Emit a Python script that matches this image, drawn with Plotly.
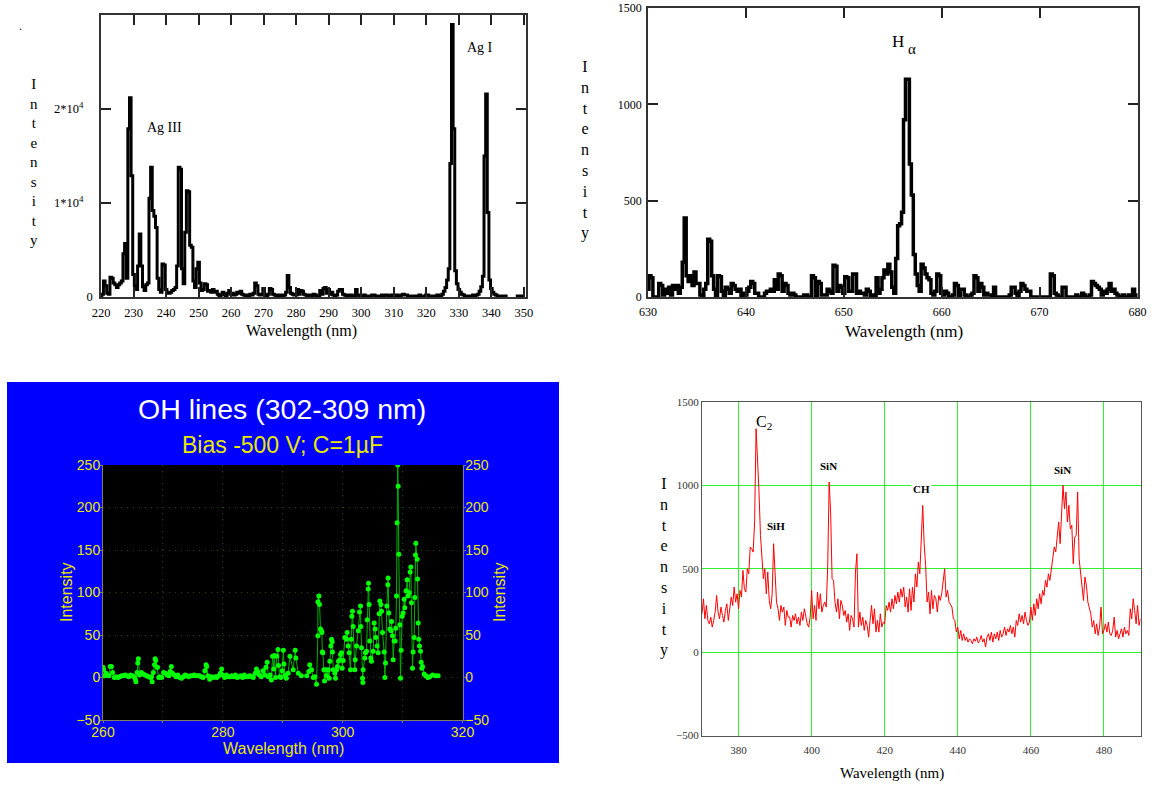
import plotly.graph_objects as go

W = 1152
H = 786

# Ag spectrum
ag_x = [
    220.0, 220.5, 221.0, 221.5, 222.0, 222.5, 223.0, 223.5, 224.0, 224.5,
    225.0, 225.5, 226.0, 226.5, 227.0, 227.5, 228.0, 228.5, 229.0, 229.5,
    230.0, 230.5, 231.0, 231.5, 232.0, 232.5, 233.0, 233.5, 234.0, 234.5,
    235.0, 235.5, 236.0, 236.5, 237.0, 237.5, 238.0, 238.5, 239.0, 239.5,
    240.0, 240.5, 241.0, 241.5, 242.0, 242.5, 243.0, 243.5, 244.0, 244.5,
    245.0, 245.5, 246.0, 246.5, 247.0, 247.5, 248.0, 248.5, 249.0, 249.5,
    250.0, 250.5, 251.0, 251.5, 252.0, 252.5, 253.0, 253.5, 254.0, 254.5,
    255.0, 255.5, 256.0, 256.5, 257.0, 257.5, 258.0, 258.5, 259.0, 259.5,
    260.0, 260.5, 261.0, 261.5, 262.0, 262.5, 263.0, 263.5, 264.0, 264.5,
    265.0, 265.5, 266.0, 266.5, 267.0, 267.5, 268.0, 268.5, 269.0, 269.5,
    270.0, 270.5, 271.0, 271.5, 272.0, 272.5, 273.0, 273.5, 274.0, 274.5,
    275.0, 275.5, 276.0, 276.5, 277.0, 277.5, 278.0, 278.5, 279.0, 279.5,
    280.0, 280.5, 281.0, 281.5, 282.0, 282.5, 283.0, 283.5, 284.0, 284.5,
    285.0, 285.5, 286.0, 286.5, 287.0, 287.5, 288.0, 288.5, 289.0, 289.5,
    290.0, 290.5, 291.0, 291.5, 292.0, 292.5, 293.0, 293.5, 294.0, 294.5,
    295.0, 295.5, 296.0, 296.5, 297.0, 297.5, 298.0, 298.5, 299.0, 299.5,
    300.0, 300.5, 301.0, 301.5, 302.0, 302.5, 303.0, 303.5, 304.0, 304.5,
    305.0, 305.5, 306.0, 306.5, 307.0, 307.5, 308.0, 308.5, 309.0, 309.5,
    310.0, 310.5, 311.0, 311.5, 312.0, 312.5, 313.0, 313.5, 314.0, 314.5,
    315.0, 315.5, 316.0, 316.5, 317.0, 317.5, 318.0, 318.5, 319.0, 319.5,
    320.0, 320.5, 321.0, 321.5, 322.0, 322.5, 323.0, 323.5, 324.0, 324.5,
    325.0, 325.5, 326.0, 326.5, 327.0, 327.5, 328.0, 328.5, 329.0, 329.5,
    330.0, 330.5, 331.0, 331.5, 332.0, 332.5, 333.0, 333.5, 334.0, 334.5,
    335.0, 335.5, 336.0, 336.5, 337.0, 337.5, 338.0, 338.5, 339.0, 339.5,
    340.0, 340.5, 341.0, 341.5, 342.0, 342.5, 343.0, 343.5, 344.0, 344.5,
    345.0, 345.5, 346.0, 346.5, 347.0, 347.5, 348.0, 348.5, 349.0, 349.5,
    350.0,
]
ag_y = [
    100, 300, 1700, 1200, 400, 300, 2100, 2000, 1500, 1300,
    1000, 1300, 1500, 1700, 4600, 5700, 2000, 17900, 21200, 12900,
    2400, 1200, 800, 3300, 6700, 3300, 1100, 700, 1300, 1500,
    10500, 13800, 9200, 8600, 7400, 2000, 800, 500, 3500, 3400,
    800, 500, 400, 500, 700, 800, 1000, 3300, 13800, 13600,
    3000, 1400, 6900, 11300, 11200, 5500, 5300, 1700, 1000, 3000,
    3700, 1500, 700, 800, 1400, 1300, 600, 700, 500, 800,
    500, 600, 300, 100, 200, 500, 300, 100, 400, 700,
    300, 400, 200, 300, 500, 400, 600, 300, 200, 100,
    200, 100, 300, 200, 400, 1500, 1200, 300, 200, 300,
    900, 200, 100, 300, 900, 800, 300, 200, 100, 200,
    100, 200, 100, 200, 500, 2300, 1000, 400, 300, 200,
    200, 800, 300, 700, 600, 300, 200, 100, 200, 200,
    100, 300, 200, 100, 100, 700, 300, 900, 1000, 400,
    800, 300, 500, 200, 100, 200, 600, 800, 800, 300,
    200, 100, 200, 100, 200, 100, 100, 800, 200, 100,
    100, 100, 200, 100, 100, 100, 100, 200, 200, 100,
    100, 100, 100, 200, 100, 200, 200, 100, 100, 200,
    100, 100, 200, 100, 100, 200, 300, 200, 200, 100,
    100, 100, 100, 100, 100, 100, 200, 100, 100, 100,
    200, 200, 100, 100, 100, 100, 100, 200, 100, 100,
    300, 600, 1000, 1800, 3000, 14200, 29000, 17900, 2800, 1400,
    800, 500, 300, 200, 100, 100, 100, 100, 100, 200,
    100, 200, 300, 600, 1100, 2200, 15000, 21600, 9000, 1800,
    900, 500, 300, 200, 100, 100, 100, 100, 100, 100,
    100, None, None, None, None, 100, 100, 100, 100, 100,
    100,
]

# H alpha region
ha_x = [
    630.0, 630.2, 630.4, 630.6, 630.8, 631.0, 631.2, 631.4, 631.6, 631.8,
    632.0, 632.2, 632.4, 632.6, 632.8, 633.0, 633.2, 633.4, 633.6, 633.8,
    634.0, 634.2, 634.4, 634.6, 634.8, 635.0, 635.2, 635.4, 635.6, 635.8,
    636.0, 636.2, 636.4, 636.6, 636.8, 637.0, 637.2, 637.4, 637.6, 637.8,
    638.0, 638.2, 638.4, 638.6, 638.8, 639.0, 639.2, 639.4, 639.6, 639.8,
    640.0, 640.2, 640.4, 640.6, 640.8, 641.0, 641.2, 641.4, 641.6, 641.8,
    642.0, 642.2, 642.4, 642.6, 642.8, 643.0, 643.2, 643.4, 643.6, 643.8,
    644.0, 644.2, 644.4, 644.6, 644.8, 645.0, 645.2, 645.4, 645.6, 645.8,
    646.0, 646.2, 646.4, 646.6, 646.8, 647.0, 647.2, 647.4, 647.6, 647.8,
    648.0, 648.2, 648.4, 648.6, 648.8, 649.0, 649.2, 649.4, 649.6, 649.8,
    650.0, 650.2, 650.4, 650.6, 650.8, 651.0, 651.2, 651.4, 651.6, 651.8,
    652.0, 652.2, 652.4, 652.6, 652.8, 653.0, 653.2, 653.4, 653.6, 653.8,
    654.0, 654.2, 654.4, 654.6, 654.8, 655.0, 655.2, 655.4, 655.6, 655.8,
    656.0, 656.2, 656.4, 656.6, 656.8, 657.0, 657.2, 657.4, 657.6, 657.8,
    658.0, 658.2, 658.4, 658.6, 658.8, 659.0, 659.2, 659.4, 659.6, 659.8,
    660.0, 660.2, 660.4, 660.6, 660.8, 661.0, 661.2, 661.4, 661.6, 661.8,
    662.0, 662.2, 662.4, 662.6, 662.8, 663.0, 663.2, 663.4, 663.6, 663.8,
    664.0, 664.2, 664.4, 664.6, 664.8, 665.0, 665.2, 665.4, 665.6, 665.8,
    666.0, 666.2, 666.4, 666.6, 666.8, 667.0, 667.2, 667.4, 667.6, 667.8,
    668.0, 668.2, 668.4, 668.6, 668.8, 669.0, 669.2, 669.4, 669.6, 669.8,
    670.0, 670.2, 670.4, 670.6, 670.8, 671.0, 671.2, 671.4, 671.6, 671.8,
    672.0, 672.2, 672.4, 672.6, 672.8, 673.0, 673.2, 673.4, 673.6, 673.8,
    674.0, 674.2, 674.4, 674.6, 674.8, 675.0, 675.2, 675.4, 675.6, 675.8,
    676.0, 676.2, 676.4, 676.6, 676.8, 677.0, 677.2, 677.4, 677.6, 677.8,
    678.0, 678.2, 678.4, 678.6, 678.8, 679.0, 679.2, 679.4, 679.6, 679.8,
    680.0,
]
ha_y = [
    40, 110, 100, 0, 0, 0, 70, 60, 10, 40,
    20, 50, 10, 60, 40, 60, 20, 50, 180, 410,
    110, 80, 110, 60, 130, 70, 70, 10, 0, 40,
    70, 300, 290, 110, 40, 0, 110, 105, 30, 0,
    50, 40, 20, 70, 60, 40, 30, 40, 0, 20,
    10, 30, 50, 80, 70, 20, 20, 0, 0, 0,
    20, 30, 30, 40, 30, 90, 40, 120, 110, 30,
    70, 60, 20, 10, 20, 10, 0, 0, 0, 0,
    10, 10, 0, 0, 110, 100, 0, 80, 70, 10,
    10, 10, 40, 30, 20, 165, 160, 30, 60, 50,
    20, 105, 100, 30, 30, 120, 120, 20, 30, 20,
    20, 10, 40, 30, 0, 10, 0, 100, 20, 40,
    100, 140, 120, 170, 130, 50, 20, 200, 370, 380,
    440, 920, 1130, 1130, 690, 530, 220, 120, 60, 30,
    170, 150, 120, 100, 90, 20, 10, 30, 120, 110,
    20, 10, 30, 20, 0, 0, 10, 70, 60, 0,
    40, 40, 10, 0, 0, 10, 20, 110, 100, 30,
    70, 50, 10, 20, 10, 10, 0, 50, 0, 0,
    0, 0, 0, 0, 0, 10, 50, 50, 20, 0,
    30, 70, 60, 40, 30, 30, 0, 0, 0, 0,
    0, 0, 0, 0, 0, 0, 120, 110, 20, 10,
    0, 0, 50, 50, 0, 0, 0, 0, 0, 10,
    0, 0, 20, 10, 0, 0, 10, 80, 70, 60,
    50, 40, 10, 30, 20, 40, 70, 30, 40, 20,
    10, 0, 0, 10, 0, 0, 10, 0, 40, 10,
    0,
]

# OH lines
oh_x = [
    260.0, 260.1, 260.3, 260.5, 260.7, 261.0, 261.2, 261.4, 261.6, 261.9,
    262.2, 262.5, 262.8, 263.1, 263.4, 263.7, 264.0, 264.3, 264.6, 264.9,
    265.2, 265.4, 265.5, 265.7, 265.8, 265.9, 266.1, 266.4, 266.7, 267.0,
    267.3, 267.6, 267.9, 268.1, 268.2, 268.4, 268.6, 268.7, 268.8, 269.0,
    269.1, 269.3, 269.5, 269.8, 270.1, 270.4, 270.7, 271.0, 271.2, 271.4,
    271.6, 271.9, 272.2, 272.5, 272.8, 273.1, 273.4, 273.7, 274.0, 274.3,
    274.6, 274.9, 275.2, 275.5, 275.8, 276.1, 276.4, 276.7, 277.0, 277.2,
    277.3, 277.5, 277.8, 278.1, 278.4, 278.7, 279.0, 279.3, 279.6, 279.8,
    280.0, 280.3, 280.6, 280.9, 281.2, 281.5, 281.8, 282.1, 282.4, 282.7,
    283.0, 283.3, 283.6, 283.9, 284.2, 284.5, 284.8, 285.1, 285.4, 285.6,
    285.8, 286.1, 286.4, 286.7, 287.0, 287.2, 287.4, 287.6, 287.9, 288.1,
    288.3, 288.5, 288.6, 288.8, 289.0, 289.2, 289.3, 289.5, 289.7, 289.9,
    290.1, 290.2, 290.4, 290.6, 290.9,
    291.2, 291.75, 292.08, 292.19, 292.6, 293.1, 294.0, 294.36, 294.5, 294.8,
    295.1, 295.36, 295.64, 295.86, 295.87, 296.03, 296.14, 296.3, 296.47, 296.53,
    296.6, 296.7, 296.86, 296.97, 297.2, 297.3, 297.6, 297.75, 297.86, 298.03,
    298.14, 298.25, 298.3, 298.42, 298.7, 298.8, 298.97, 299.14, 299.3, 299.53,
    299.64, 299.8, 299.92, 300.09, 300.36, 300.64, 300.75, 300.92, 301.09, 301.31,
    301.42, 301.53, 301.64, 301.75, 302.03, 302.1, 302.31, 302.59, 302.81, 302.98,
    303.03, 303.14, 303.31, 303.37, 303.42, 303.7, 303.81, 303.98, 304.09, 304.26,
    304.31, 304.42, 304.53, 304.7, 304.81, 305.09, 305.26, 305.42, 305.53, 305.76,
    305.92, 306.09, 306.2, 306.37, 306.48, 306.65, 306.93, 307.04, 307.15, 307.37,
    307.54, 307.59, 307.7, 307.87, 308.09, 308.15, 308.32, 308.43, 308.59, 308.76,
    308.87, 308.98, 309.09, 309.2, 309.26, 309.37, 309.54, 309.65, 309.76, 309.93,
    310.09, 310.26, 310.37, 310.59, 310.76, 310.93, 311.09, 311.26, 311.37, 311.48,
    311.65, 311.76, 311.93, 312.04, 312.15, 312.21, 312.43, 312.49, 312.6, 312.71,
    312.82, 312.99, 313.1, 313.21, 313.32, 313.6, 313.87, 314.21, 314.54, 315.0,
    315.55, 315.93,
]
oh_y = [
    12, 9, 2, 5, 3, 2, 13, 13, 6, 0,
    1, 0, 1, 2, 2, 3, 2, 1, 3, 2,
    1, -2, -5, 6, 17, 22, 3, 6, 4, 3,
    2, 1, 0, 1, -5, 6, 15, 22, 20, 12,
    12, 0, 1, 0, 6, 5, 3, 2, 7, 13,
    5, 3, 1, 3, 0, -1, 1, 3, 2, 1,
    2, 2, 3, 2, 2, 2, 1, 0, 8, 15,
    13, 2, -2, 1, 0, 1, 0, 2, 5, 10,
    3, 0, 3, 1, 1, 2, 1, 3, 0, 1,
    2, 0, 3, 1, 1, 2, 1, 0, 5, 10,
    7, 3, 1, 8, 3, 12, 18, 1, 3, -3,
    25, 10, 26, 0, 25, 33, 14, 1, 0, 8,
    32, 16, 3, -1, 5,
    25, 9, 32, 23, 5, 2, 2, 7, 15, 9,
    0, 1, -8, 49, 89, 96, 86, 57, 55, 53,
    30, 29, 9, -4, 9, 2, 9, -1, 19, 37,
    45, 42, 30, 9, 5, -1, 9, 13, 19, 21,
    27, 29, 11, 20, 47, 45, 53, 37, 29, 9,
    45, 72, 78, 60, 9, 21, 37, 55, 77, 84,
    60, 35, -1, -6, 9, 23, 29, 31, 68, 104,
    111, 86, 43, 23, 19, 31, 64, 57, 47, 37,
    29, 75, 90, 86, 78, 53, 30, 0, 17, 84,
    109, 117, 76, 57, 55, 66, 49, 21, 43, 43,
    58, 96, 182, 250, 225, 145, 62, -1, 32, 72,
    76, 92, 82, 102, 115, 96, 100, 124, 130, 88,
    11, 30, 47, 94, 144, 158, 139, 116, 64, 45,
    37, 31, 18, 11, 13, 4, 2, 0, 1, 3,
    2, 2,
]

# Plasma emission, red trace
red_x = [
    370.0, 370.4, 370.8, 371.2, 371.6, 372.0, 372.4, 372.8, 373.2, 373.6,
    374.0, 374.4, 374.8, 375.2, 375.6, 376.0, 376.4, 376.8, 377.2, 377.6,
    378.0, 378.4, 378.8, 379.2, 379.6, 380.0, 380.4, 380.8, 381.2, 381.6,
    382.0, 382.4, 382.8, 383.2, 383.6, 384.0, 384.4, 384.8, 385.2, 385.6,
    386.0, 386.4, 386.8, 387.2, 387.6, 388.0, 388.4, 388.8, 389.2, 389.6,
    390.0, 390.4, 390.8, 391.2, 391.6, 392.0, 392.4, 392.8, 393.2, 393.6,
    394.0, 394.4, 394.8, 395.2, 395.6, 396.0, 396.4, 396.8, 397.2, 397.6,
    398.0, 398.4, 398.8, 399.2, 399.6, 400.0, 400.4, 400.8, 401.2, 401.6,
    402.0, 402.4, 402.8, 403.2, 403.6, 404.0, 404.4, 404.8, 405.2, 405.6,
    406.0, 406.4, 406.8, 407.2, 407.6, 408.0, 408.4, 408.8, 409.2, 409.6,
    410.0, 410.4, 410.8, 411.2, 411.6, 412.0, 412.4, 412.8, 413.2, 413.6,
    414.0, 414.4, 414.8, 415.2, 415.6, 416.0, 416.4, 416.8, 417.2, 417.6,
    418.0, 418.4, 418.8, 419.2, 419.6, 420.0, 420.4, 420.8, 421.2, 421.6,
    422.0, 422.4, 422.8, 423.2, 423.6, 424.0, 424.4, 424.8, 425.2, 425.6,
    426.0, 426.4, 426.8, 427.2, 427.6, 428.0, 428.4, 428.8, 429.2, 429.6,
    430.0, 430.4, 430.8, 431.2, 431.6, 432.0, 432.4, 432.8, 433.2, 433.6,
    434.0, 434.4, 434.8, 435.2, 435.6, 436.0, 436.4, 436.8, 437.2, 437.6,
    438.0, 438.4, 438.8, 439.2, 439.6, 440.0, 440.4, 440.8, 441.2, 441.6,
    442.0, 442.4, 442.8, 443.2, 443.6, 444.0, 444.4, 444.8, 445.2, 445.6,
    446.0, 446.4, 446.8, 447.2, 447.6, 448.0, 448.4, 448.8, 449.2, 449.6,
    450.0, 450.4, 450.8, 451.2, 451.6, 452.0, 452.4, 452.8, 453.2, 453.6,
    454.0, 454.4, 454.8, 455.2, 455.6, 456.0, 456.4, 456.8, 457.2, 457.6,
    458.0, 458.4, 458.8, 459.2, 459.6, 460.0, 460.4, 460.8, 461.2, 461.6,
    462.0, 462.4, 462.8, 463.2, 463.6, 464.0, 464.4, 464.8, 465.2, 465.6,
    466.0, 466.4, 466.8, 467.2, 467.6, 468.0, 468.4, 468.8, 469.2, 469.6,
    470.0, 470.4, 470.8, 471.2, 471.6, 472.0, 472.4, 472.8, 473.2, 473.6,
    474.0, 474.4, 474.8, 475.2, 475.6, 476.0, 476.4, 476.8, 477.2, 477.6,
    478.0, 478.4, 478.8, 479.2, 479.6, 480.0, 480.4, 480.8, 481.2, 481.6,
    482.0, 482.4, 482.8, 483.2, 483.6, 484.0, 484.4, 484.8, 485.2, 485.6,
    486.0, 486.4, 486.8, 487.2, 487.6, 488.0, 488.4, 488.8, 489.2, 489.6,
    490.0,
]
red_y = [
    230, 320, 200, 280, 190, 170, 210, 150, 190, 240,
    340, 240, 200, 270, 220, 180, 250, 290, 190, 270,
    330, 280, 390, 300, 350, 260, 370, 330, 490, 380,
    360, 500, 470, 630, 620, 600, 780, 1340, 1170, 960,
    700, 540, 440, 500, 350, 480, 310, 260, 350, 650,
    500, 300, 260, 190, 280, 240, 270, 160, 250, 210,
    210, 150, 220, 190, 230, 170, 210, 160, 240, 190,
    260, 200, 170, 150, 210, 370, 200, 280, 190, 360,
    260, 350, 240, 280, 300, 270, 510, 1020, 840, 440,
    430, 300, 240, 320, 200, 310, 280, 220, 250, 180,
    230, 130, 220, 200, 150, 480, 590, 150, 240, 160,
    210, 130, 190, 160, 90, 190, 280, 170, 260, 120,
    190, 120, 230, 150, 180, 170, 280, 250, 300, 240,
    320, 260, 340, 290, 360, 300, 380, 330, 390, 270,
    330, 240, 380, 250, 390, 300, 470, 390, 540, 470,
    720, 880, 650, 520, 300, 360, 230, 370, 260, 340,
    320, 240, 340, 310, 350, 430, 500, 330, 370, 300,
    280, 270, 200, 190, 120, 150, 80, 130, 70, 110,
    70, 90, 60, 80, 70, 50, 80, 65, 90, 55,
    70, 100, 60, 80, 30, 90, 110, 70, 120, 60,
    110, 80, 120, 70, 130, 90, 110, 150, 100, 140,
    120, 160, 110, 150, 90, 190, 160, 230, 180, 220,
    170, 240, 190, 160, 180, 270, 190, 290, 220, 320,
    260, 350, 290, 370, 340, 430, 390, 470, 430, 510,
    560, 630, 600, 700, 780, 650, 840, 1000, 860, 960,
    780, 880, 740, 760, 530, 690, 700, 960, 560, 470,
    380, 310, 450, 400, 300, 260, 230, 150, 190, 110,
    170, 100, 150, 270, 110, 130, 170, 120, 180, 110,
    100, 130, 210, 90, 130, 80, 120, 140, 90, 150,
    110, 130, 100, 260, 200, 320, 250, 170, 280, 160,
    200,
]

ag_xticks = [220, 230, 240, 250, 260, 270, 280, 290, 300, 310, 320, 330, 340, 350]
ag_yticks = [0, 10000, 20000]
ag_ylabels = ["0", "1*10<sup>4</sup>\u00a0\u00a0\u00a0", "2*10<sup>4</sup>\u00a0\u00a0\u00a0"]
ha_xticks = [630, 640, 650, 660, 670, 680]
ha_yticks = [0, 500, 1000, 1500]
oh_xticks = [260, 280, 300, 320]
oh_xminor = [270, 290, 310]
oh_yticks = [-50, 0, 50, 100, 150, 200, 250]
red_xticks = [380, 400, 420, 440, 460, 480]
red_yticks = [-500, 0, 500, 1000, 1500]

SERIF = "Liberation Serif"
SANS = "Liberation Sans"
YEL = "#e8e800"
OH_GRID = "#0c4c0c"
STACKED = "I<br>n<br>t<br>e<br>n<br>s<br>i<br>t<br>y"


def xdom(left, right):
    return [left / W, right / W]


def ydom(top, bottom):
    return [1 - bottom / H, 1 - top / H]


def label(text, px, py, size, color="black", family=SERIF, **kw):
    return dict(text=text, x=px / W, y=1 - py / H, xref="paper", yref="paper",
                showarrow=False, xanchor="center", yanchor="middle",
                font=dict(family=family, size=size, color=color), **kw)


fig = go.Figure()
fig.add_trace(go.Scatter(x=ag_x, y=ag_y, mode="lines", xaxis="x", yaxis="y",
                         line=dict(color="black", width=3, shape="hvh")))
fig.add_trace(go.Scatter(x=ha_x, y=ha_y, mode="lines", xaxis="x2", yaxis="y2",
                         line=dict(color="black", width=3.5, shape="hvh")))
fig.add_trace(go.Scatter(x=oh_x, y=oh_y, mode="lines+markers", xaxis="x3", yaxis="y3",
                         line=dict(color="#00b000", width=1),
                         marker=dict(color="#00ff00", size=5)))
# empty trace so the right hand axis of the OH plot gets drawn
fig.add_trace(go.Scatter(x=[None], y=[None], xaxis="x3", yaxis="y5", showlegend=False))
fig.add_trace(go.Scatter(x=red_x, y=red_y, mode="lines", xaxis="x4", yaxis="y4",
                         line=dict(color="#ff0000", width=1)))

black_axis = dict(showgrid=False, zeroline=False, showline=True, mirror="ticks",
                  linecolor="#333333", linewidth=1.5, ticks="inside", ticklen=10,
                  tickcolor="#222222", tickwidth=1.5, automargin=False)
oh_axis = dict(showgrid=True, gridcolor=OH_GRID, griddash="1px,5px", gridwidth=1,
               zeroline=False, showline=True, linecolor="#808060", linewidth=1,
               ticks="outside", ticklen=2, tickcolor="#808060", automargin=False)
red_axis = dict(showgrid=True, gridcolor="#30f030", gridwidth=1, zeroline=False,
                showline=True, mirror=True, linecolor="#555555", linewidth=1,
                ticks="", automargin=False)

fig.update_layout(
    template="none",
    width=W, height=H, margin=dict(l=0, r=0, t=0, b=0, pad=0, autoexpand=False), showlegend=False,
    paper_bgcolor="white", plot_bgcolor="white",
    xaxis=dict(domain=xdom(101, 525.5), range=[220, 350.5], anchor="y", tickvals=ag_xticks,
               ticklabelstandoff=3,
               tickfont=dict(family=SERIF, size=12.5, color="black"), **black_axis),
    yaxis=dict(domain=ydom(15, 297), range=[0, 30000], anchor="x", tickvals=ag_yticks,
               ticktext=ag_ylabels, ticklabelstandoff=4,
               tickfont=dict(family=SERIF, size=12.5, color="black"), **black_axis),
    xaxis2=dict(domain=xdom(648, 1137.5), range=[630, 680], anchor="y2", tickvals=ha_xticks,
                ticklabelstandoff=3,
                tickfont=dict(family=SERIF, size=12, color="black"), **black_axis),
    yaxis2=dict(domain=ydom(8, 297), range=[0, 1500], anchor="x2", tickvals=ha_yticks,
                ticklabelstandoff=2,
                tickfont=dict(family=SERIF, size=12, color="black"), **black_axis),
    xaxis3=dict(domain=xdom(103, 462.5), range=[260, 320], anchor="y3", tickvals=oh_xticks,
                ticklabelstandoff=-3,
                minor=dict(tickvals=oh_xminor, ticks="outside", ticklen=2, tickcolor="#808060",
                           showgrid=True, gridcolor=OH_GRID, griddash="1px,5px", gridwidth=1),
                tickfont=dict(family=SANS, size=14, color=YEL), **oh_axis),
    yaxis3=dict(domain=ydom(465, 720), range=[-50, 250], anchor="x3", tickvals=oh_yticks,
                ticklabelstandoff=-3,
                tickfont=dict(family=SANS, size=14, color=YEL), **oh_axis),
    yaxis5=dict(domain=ydom(465, 720), range=[-50, 250], anchor="x3", overlaying="y3",
                side="right", tickvals=oh_yticks, ticklabelstandoff=-3,
                tickfont=dict(family=SANS, size=14, color=YEL),
                **{**oh_axis, "showgrid": False}),
    xaxis4=dict(domain=xdom(702, 1140.5), range=[370, 490], anchor="y4", tickvals=red_xticks,
                ticklabelstandoff=4,
                tickfont=dict(family=SERIF, size=11, color="#333333"), **red_axis),
    yaxis4=dict(domain=ydom(402, 735.5), range=[-500, 1500], anchor="x4", tickvals=red_yticks,
                tickfont=dict(family=SERIF, size=11, color="#333333"), **red_axis),
    shapes=[
        dict(type="rect", xref="paper", yref="paper", layer="below",
             x0=7 / W, x1=559 / W, y0=1 - 763 / H, y1=1 - 382 / H,
             fillcolor="#0000ff", line=dict(width=0)),
        dict(type="rect", xref="x3 domain", yref="y3 domain", layer="below",
             x0=0, x1=1, y0=0, y1=1, fillcolor="black", line=dict(width=0)),
    ],
    annotations=[
        label(".", 20, 26, 12),
        label(STACKED, 34, 162, 15),
        label("Ag III", 164, 127, 14),
        label("Ag I", 480, 47, 14),
        label("Wavelength (nm)", 301, 331, 16),
        label(STACKED, 585, 150, 16),
        label("H", 898, 42, 17),
        label("α", 912, 49, 15),
        label("Wavelength (nm)", 904, 331, 17),
        label("OH lines (302-309 nm)", 282, 409, 28.5, "white", SANS),
        label("Bias -500 V; C=1µF", 282, 445, 23, YEL, SANS),
        label("Wavelength (nm)", 283, 748, 16, YEL, SANS),
        label("Intensity", 66, 592, 16, YEL, SANS, textangle=-90),
        label("Intensity", 499, 592, 16, YEL, SANS, textangle=-90),
        label(STACKED, 664, 567, 16),
        label("C<sub>2</sub>", 764, 423, 16),
        label("<b>SiN</b>", 828, 466, 11),
        label("<b>SiH</b>", 776, 526, 11),
        label("<b>CH</b>", 921, 489, 11, bgcolor="white"),
        label("<b>SiN</b>", 1062, 470, 11),
        label("Wavelength (nm)", 892, 773, 15),
    ],
)

fig.write_html("out.html", config={"displayModeBar": False},
               post_script="document.body.style.margin='0';")
